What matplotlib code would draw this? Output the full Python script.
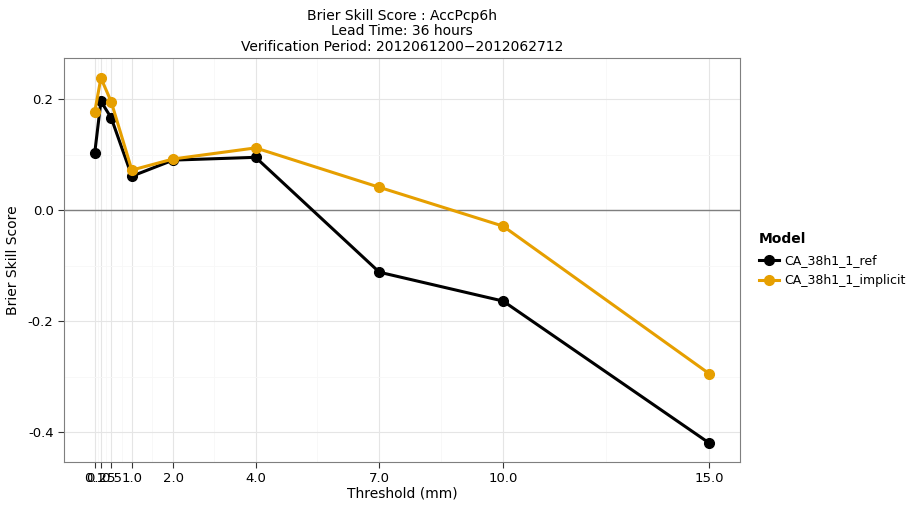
import matplotlib
matplotlib.use("Agg")
import matplotlib.pyplot as plt
from matplotlib.ticker import FixedLocator

thresholds = [0.1, 0.25, 0.5, 1.0, 2.0, 4.0, 7.0, 10.0, 15.0]
tick_labels = ["0.1", "0.25", "0.5", "1.0", "2.0", "4.0", "7.0", "10.0", "15.0"]
bss_ref = [0.103, 0.196, 0.166, 0.061, 0.090, 0.095, -0.112, -0.164, -0.420]
bss_implicit = [0.177, 0.238, 0.195, 0.072, 0.092, 0.112, 0.041, -0.029, -0.295]
models = ["CA_38h1_1_ref", "CA_38h1_1_implicit"]
colors = ["#000000", "#E69F00"]

fig = plt.figure(figsize=(9.21, 5.07), dpi=100)
ax = fig.add_axes([0.0695, 0.0888, 0.734, 0.7968])

for name, vals, col in zip(models, [bss_ref, bss_implicit], colors):
    ax.plot(thresholds, vals, "o-", color=col, lw=2.2, ms=7, label=name, zorder=3)

ax.axhline(0, color="#7f7f7f", lw=1, zorder=2)

ax.set_xlim(-0.645, 15.745)
ax.set_ylim(-0.454, 0.274)
ax.set_xticks(thresholds)
ax.set_xticklabels(tick_labels)
ax.set_yticks([-0.4, -0.2, 0.0, 0.2])
ax.set_yticklabels(["-0.4", "-0.2", "0.0", "0.2"])
minor_x = [(a + b) / 2 for a, b in zip(thresholds[:-1], thresholds[1:])]
ax.xaxis.set_minor_locator(FixedLocator(minor_x))
ax.yaxis.set_minor_locator(FixedLocator([-0.3, -0.1, 0.1]))
ax.grid(which="major", color="#e5e5e5", lw=0.8, zorder=0)
ax.grid(which="minor", color="#f7f7f7", lw=0.6, zorder=0)
ax.set_axisbelow(True)
ax.tick_params(which="minor", length=0)
ax.tick_params(which="major", length=4, color="#333333", labelsize=9.5, labelcolor="black")
for s in ax.spines.values():
    s.set_color("#7f7f7f")

ax.set_xlabel("Threshold (mm)", fontsize=10, labelpad=1)
ax.set_ylabel("Brier Skill Score", fontsize=10, labelpad=6)
ax.set_title("Brier Skill Score : AccPcp6h\nLead Time: 36 hours\n"
             "Verification Period: 2012061200\u22122012062712",
             fontsize=10, linespacing=1.15, pad=5)

leg = ax.legend(title="Model", loc="center left", bbox_to_anchor=(1.015, 0.5),
                frameon=False, fontsize=9, handlelength=1.6,
                borderaxespad=0.3, handletextpad=0.4, labelspacing=0.6)
leg.get_title().set_fontweight("bold")
leg.get_title().set_fontsize(10)
leg._legend_box.align = "left"

fig.savefig("out.png", dpi=100)
